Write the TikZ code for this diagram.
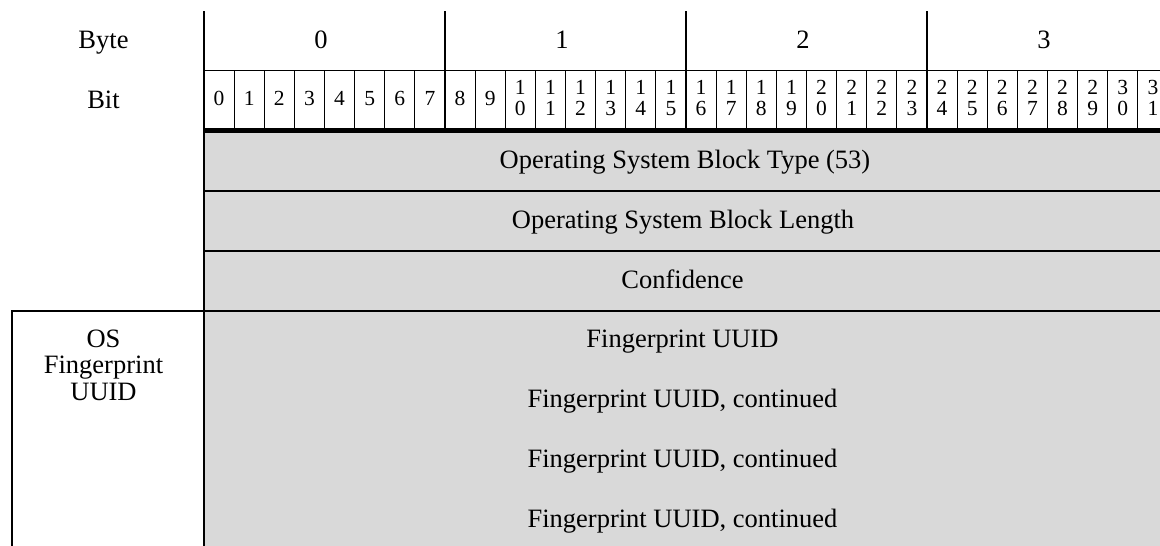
\documentclass[tikz,border=0pt]{standalone}
\usepackage{fontspec}
\setmainfont{Liberation Serif}
\definecolor{cellgray}{HTML}{D9D9D9}
\tikzset{
  main/.style={anchor=base, inner sep=0pt, font=\fontsize{26.5}{27}\selectfont},
  bitnum/.style={anchor=base, inner sep=0pt, font=\fontsize{21.5}{22}\selectfont},
  thinline/.style={line width=0.9pt},
  byteline/.style={line width=1.7pt},
  rowline/.style={line width=2pt},
}
\begin{document}
\begin{tikzpicture}[x=1pt,y=-1pt]
\useasboundingbox (0,0) rectangle (1160,546);
\begin{scope}
\clip (0,0) rectangle (1160,546);
% gray field
\fill[cellgray] (204,131) rectangle (1175,560);
% left column labels
\node[main] (byte) at (103.5,48) {Byte};
\node[main] (bit) at (103.5,108) {Bit};
% byte numbers
\foreach \b in {0,1,2,3} {
  \node[main] (byte\b) at ({204+(8*\b+4)*30.125-3.5},48.5) {\b};
}
% bit numbers
\foreach \i in {0,...,31} {
  \pgfmathsetmacro{\cx}{204+(\i+0.5)*30.125}
  \ifnum\i<10
    \node[bitnum] (bit\i) at (\cx,105.7) {\i};
  \else
    \pgfmathtruncatemacro{\tens}{\i/10}
    \pgfmathtruncatemacro{\units}{\i-10*\tens}
    \node[bitnum] (bit\i a) at (\cx,94.3) {\tens};
    \node[bitnum] (bit\i b) at (\cx,115.3) {\units};
  \fi
}
% bit separators
\foreach \i in {1,...,31} {
  \draw[thinline] ({204+\i*30.125},70.7) -- ({204+\i*30.125},128);
}
% byte separators
\foreach \b in {1,2,3} {
  \draw[byteline] ({204+8*\b*30.125},11) -- ({204+8*\b*30.125},128);
}
% horizontal lines in header
\draw[line width=1.3pt] (204,70.7) -- (1175,70.7);
\draw[line width=5pt] (203,130.5) -- (1175,130.5);
% row lines
\draw[rowline] (204,190.7) -- (1175,190.7);
\draw[line width=1.1pt] (204,251) -- (1175,251);
\draw[rowline] (12,311) -- (1175,311);
% left vertical line of table
\draw[rowline] (204,11) -- (204,560);
% left box
\draw[rowline] (12,310) -- (12,560);
% row texts
\node[main] (type) at (685,168) {Operating System Block Type (53)};
\node[main] (len) at (683,228.3) {Operating System Block Length};
\node[main] (conf) at (682.5,288.7) {Confidence};
\node[main] (fp0) at (682.5,347) {Fingerprint UUID};
\node[main] (fp1) at (682.5,407) {Fingerprint UUID, continued};
\node[main] (fp2) at (682.5,467) {Fingerprint UUID, continued};
\node[main] (fp3) at (682.5,527) {Fingerprint UUID, continued};
% OS label
\node[main] (os1) at (103.5,347.3) {OS};
\node[main] (os2) at (103.5,373.5) {Fingerprint};
\node[main] (os3) at (103.5,400.5) {UUID};
\end{scope}
\end{tikzpicture}
\end{document}
